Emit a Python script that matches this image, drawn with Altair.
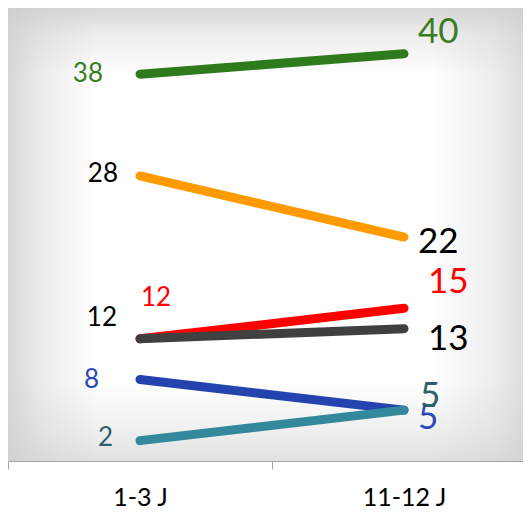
import altair as alt
import pandas as pd

# ---- data ----
categories = ["1-3 J", "11-12 J"]
series = ["Serie A", "Serie B", "Serie C", "Serie D", "Serie E", "Serie F"]
start_values = [38, 28, 12, 12, 8, 2]
end_values = [40, 22, 15, 13, 5, 5]

# ---- styles ----
line_colors = ["#2f7a1d", "#ff9a00", "#ff0000", "#404040", "#2443ae", "#33889b"]
left_label_colors = ["#3a7d22", "#000000", "#ff0000", "#000000", "#2b4ab5", "#2d5f68"]
right_label_colors = ["#3a7d22", "#000000", "#ff0000", "#000000", "#2b4ab5", "#2d6068"]
# (dx, dy, align) offsets for the labels at each end
left_offsets = [(-37, 0, "right"), (-22, -2, "right"), (16, -41, "center"),
                (-23, -21, "right"), (-41, 0, "right"), (-27, -3, "right")]
right_offsets = [(14, -22, "left"), (14, 5, "left"), (24, -26, "left"),
                 (24, 10, "left"), (14, 8, "left"), (16, -14, "left")]

W = 515          # visible plot width
W_FULL = 528     # plot area of the original runs past the right edge
H = 453
BOTTOM = 48
YMAX = 44.5
FONT = "Lato"

rows = []
for s, a, b in zip(series, start_values, end_values):
    rows.append({"serie": s, "cat": categories[0], "value": a})
    rows.append({"serie": s, "cat": categories[1], "value": b})
df = pd.DataFrame(rows)

xscale = alt.Scale(type="band", domain=categories, paddingInner=0, paddingOuter=0,
                   range=[0, W_FULL])
yscale = alt.Scale(domain=[0, YMAX], nice=False, zero=True)

x_enc = alt.X("cat:N", scale=xscale, bandPosition=0.5, sort=categories,
              axis=alt.Axis(title=None, labelAngle=0, tickBand="extent", grid=False,
                            domainColor="#a6a6a6", tickColor="#a6a6a6", tickSize=8,
                            labelFont=FONT, labelFontSize=25, labelColor="#000000",
                            labelPadding=16))
y_enc = alt.Y("value:Q", scale=yscale, axis=None)


def grad(horizontal, stops):
    return {
        "gradient": "linear",
        "x1": 0, "y1": 0,
        "x2": 1 if horizontal else 0,
        "y2": 0 if horizontal else 1,
        "stops": [{"offset": o, "color": c} for o, c in stops],
    }


one = pd.DataFrame({"a": [0]})
box = dict(x=alt.value(0), x2=alt.value(W_FULL), y=alt.value(0), y2=alt.value(H))
bg_white = alt.Chart(one).mark_rect(fill="#ffffff").encode(**box)
bg_h = alt.Chart(one).mark_rect(fill=grad(True, [
    (0.0, "rgba(205,205,205,0.8)"),
    (0.07, "rgba(205,205,205,0.35)"),
    (0.17, "rgba(205,205,205,0)"),
    (0.80, "rgba(205,205,205,0)"),
    (0.92, "rgba(205,205,205,0.35)"),
    (1.0, "rgba(205,205,205,0.8)"),
])).encode(**box)
bg_v = alt.Chart(one).mark_rect(fill=grad(False, [
    (0.0, "rgba(205,205,205,0.8)"),
    (0.06, "rgba(205,205,205,0.35)"),
    (0.15, "rgba(205,205,205,0)"),
    (0.82, "rgba(205,205,205,0)"),
    (0.93, "rgba(205,205,205,0.3)"),
    (1.0, "rgba(205,205,205,0.6)"),
])).encode(**box)

layers = [bg_white, bg_h, bg_v]

for i, s in enumerate(series):
    layers.append(
        alt.Chart(df).transform_filter(alt.datum.serie == s)
        .mark_line(color=line_colors[i], strokeWidth=9, strokeCap="round")
        .encode(x=x_enc, y=y_enc)
    )

for i, s in enumerate(series):
    for cat, offs, cols, size in [
        (categories[0], left_offsets, left_label_colors, 26),
        (categories[1], right_offsets, right_label_colors, 35),
    ]:
        dx, dy, al = offs[i]
        layers.append(
            alt.Chart(df)
            .transform_filter((alt.datum.serie == s) & (alt.datum.cat == cat))
            .mark_text(font=FONT, fontSize=size, color=cols[i], align=al,
                       baseline="middle", dx=dx, dy=dy)
            .encode(x=x_enc, y=y_enc, text=alt.Text("value:Q"))
        )

chart = alt.layer(*layers).properties(
    width=W, height=H,
    autosize=alt.AutoSizeParams(type="none"),
    padding={"left": 0, "top": 0, "right": 0, "bottom": BOTTOM},
).configure_view(strokeWidth=0)

chart.save("out.html", embed_options={"renderer": "svg", "actions": False})
